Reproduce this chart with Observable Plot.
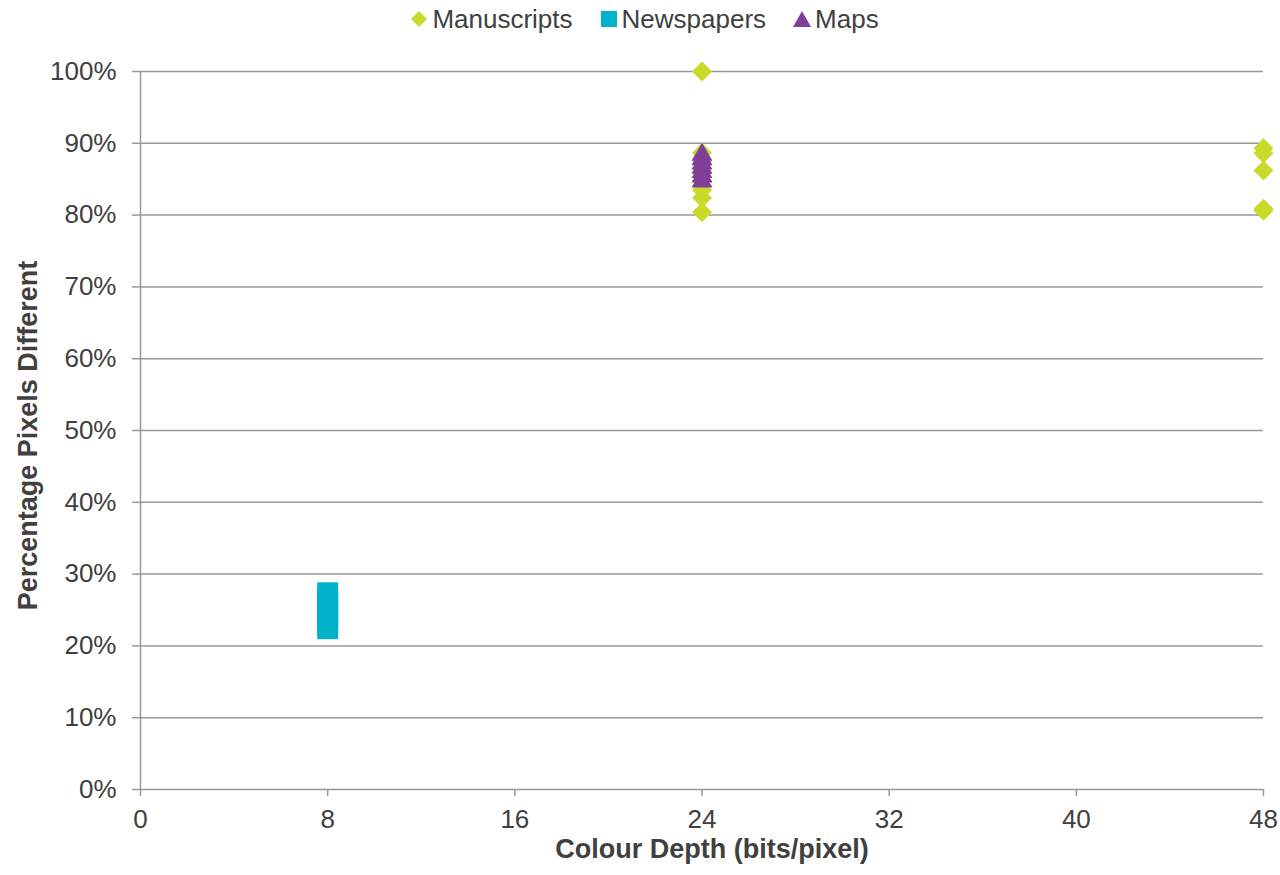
<!DOCTYPE html>
<html><head><meta charset="utf-8">
<script src="https://cdn.jsdelivr.net/npm/d3@7"></script>
<script src="https://cdn.jsdelivr.net/npm/@observablehq/plot@0.6"></script>
<style>
body{margin:0;background:#fff;font-family:"Liberation Sans",Arial,sans-serif;}
#legend{height:38px;display:flex;justify-content:center;align-items:center;gap:26px;font-size:26px;color:#404040;padding-left:8px;box-sizing:border-box}
.item{display:flex;align-items:center;}
.item svg{margin-right:3px}
</style></head><body>
<div id="legend"></div><div id="chart"></div>
<script>
const seriesNames = ["Manuscripts", "Newspapers", "Maps"];
const seriesColors = ["#C9DA2A", "#00B3CA", "#7F3F98"];
const seriesSymbols = ["diamond2", "square", "triangle2"];

const manuscriptsX = [24, 24, 24, 24, 24, 24, 24, 24, 48, 48, 48, 48, 48];
const manuscriptsY = [1.00, 0.887, 0.875, 0.860, 0.848, 0.835, 0.824, 0.804, 0.893, 0.886, 0.862, 0.809, 0.806];

const newspapersX = [8, 8, 8, 8, 8, 8, 8, 8];
const newspapersY = [0.224, 0.231, 0.238, 0.245, 0.252, 0.260, 0.267, 0.274];

const mapsX = [24, 24, 24, 24, 24, 24, 24];
const mapsY = [0.884, 0.878, 0.872, 0.866, 0.860, 0.854, 0.847];

const xTicks = [0, 8, 16, 24, 32, 40, 48];
const yTicks = [0, 0.1, 0.2, 0.3, 0.4, 0.5, 0.6, 0.7, 0.8, 0.9, 1.0];
const xTitle = "Colour Depth (bits/pixel)";
const yTitle = "Percentage Pixels Different";

const toRows = (xs, ys) => xs.map((x, i) => ({x, y: ys[i]}));
const seriesData = [toRows(manuscriptsX, manuscriptsY), toRows(newspapersX, newspapersY), toRows(mapsX, mapsY)];
const seriesR = [9, 11.8, 10];

// legend
const legendShapes = [
  '<svg width="20" height="20"><path d="M10,2L18,10L10,18L2,10Z" fill="COL"/></svg>',
  '<svg width="20" height="20"><rect x="2" y="2" width="16" height="16" fill="COL"/></svg>',
  '<svg width="20" height="20"><path d="M10,2L19,18L1,18Z" fill="COL"/></svg>'
];
const legend = document.getElementById("legend");
seriesNames.forEach((n, i) => {
  const d = document.createElement("div");
  d.className = "item";
  d.innerHTML = legendShapes[i].replace("COL", seriesColors[i]) + "<span>" + n + "</span>";
  legend.appendChild(d);
});

const grid = "#989898";
const txt = "#404040";
const chart = Plot.plot({
  width: 1280, height: 837,
  marginTop: 33, marginBottom: 86, marginLeft: 140, marginRight: 17,
  style: {fontFamily: '"Liberation Sans", Arial, sans-serif', fontSize: "26px", color: txt, background: "white", overflow: "visible"},
  x: {domain: [0, 48]},
  y: {domain: [0, 1]},
  marks: [
    Plot.ruleY(yTicks, {stroke: grid, strokeWidth: 1.5}),
    Plot.ruleX([0], {stroke: grid, strokeWidth: 1.5}),
    Plot.axisY(yTicks, {tickFormat: d3.format(".0%"), tickSize: 8, tickPadding: 16, stroke: grid, strokeWidth: 1.5, fontSize: 26, fill: txt, label: null}),
    Plot.axisX(xTicks, {tickFormat: d => String(d), tickSize: 7, tickPadding: 13, stroke: grid, strokeWidth: 1.5, fontSize: 26, fill: txt, label: null}),
    Plot.text([xTitle], {frameAnchor: "bottom", lineAnchor: "middle", textAnchor: "middle", dy: 60, dx: 10, fontWeight: "bold", fontSize: 27, fill: txt}),
    Plot.text([yTitle], {frameAnchor: "left", lineAnchor: "middle", textAnchor: "middle", rotate: -90, dx: -112, dy: 5, fontWeight: "bold", fontSize: 27, fill: txt}),
    ...seriesData.map((data, i) => Plot.dot(data, {x: "x", y: "y", symbol: seriesSymbols[i], r: seriesR[i], fill: seriesColors[i]}))
  ]
});
document.getElementById("chart").appendChild(chart);
</script>
</body></html>
